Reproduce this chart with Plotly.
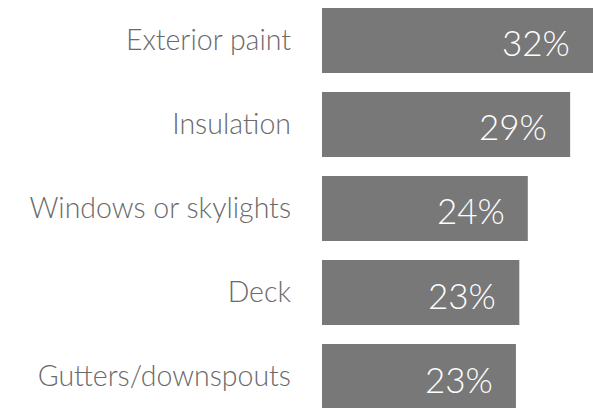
import plotly.graph_objects as go

categories = ["Exterior paint", "Insulation", "Windows or skylights", "Deck", "Gutters/downspouts"]
values = [32.0, 29.3, 24.3, 23.3, 22.9]
value_labels = ["32%", "29%", "24%", "23%", "23%"]

BAR = "#787878"
LABEL = "#6a6a6a"

fig = go.Figure(go.Bar(
    x=values, y=categories, orientation="h",
    marker=dict(color=BAR, line=dict(width=0)),
    hoverinfo="skip",
))

for c, v, t in zip(categories, values, value_labels):
    fig.add_annotation(x=v, y=c, xref="x", yref="y", text=t, showarrow=False,
                       xanchor="right", yanchor="middle", xshift=-21, yshift=-2,
                       font=dict(family="Lato", size=35, color="white", weight=300))

fig.update_layout(
    width=593, height=408,
    margin=dict(l=322, r=0, t=0, b=0, pad=0),
    paper_bgcolor="white", plot_bgcolor="white",
    bargap=0.226, showlegend=False,
    xaxis=dict(range=[0, 32], visible=False, fixedrange=True),
    yaxis=dict(categoryorder="array", categoryarray=categories,
               range=[4.375, -0.482], autorange=False,
               showgrid=False, zeroline=False, showline=False, ticks="",
               ticklabelstandoff=30,
               tickfont=dict(family="Lato", size=28.5, color=LABEL, weight=300)),
)

fig.write_html("out.html")
